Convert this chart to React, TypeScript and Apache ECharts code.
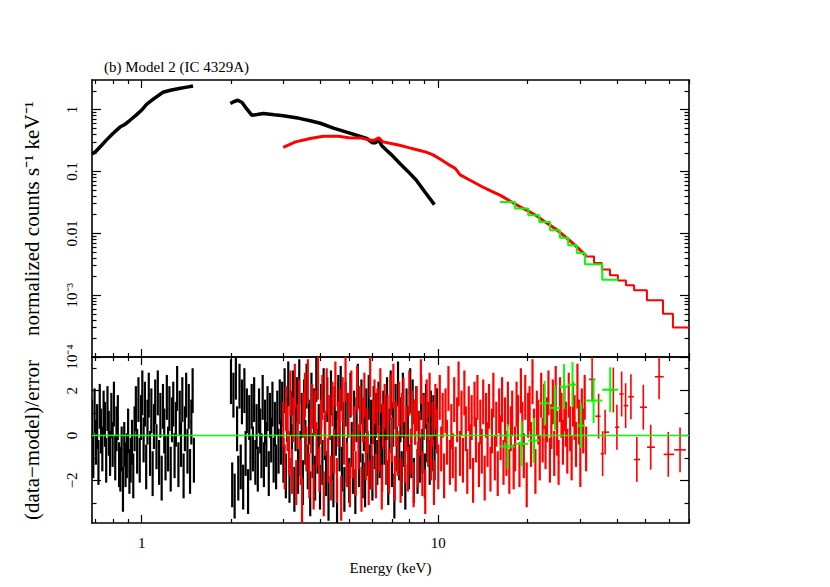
import React, { useEffect, useRef } from "react";
import * as echarts from "echarts";

// ---------- text ----------
const TITLE = "(b) Model 2 (IC 4329A)";
const X_NAME = "Energy (keV)";
const Y_TOP_NAME = "normalized counts s\u207B\u00B9 keV\u207B\u00B9";
const Y_BOT_NAME = "(data\u2212model)/error";

// ---------- axes ----------
const E_MIN = 0.68;
const E_MAX = 70;
const C_MIN = 1e-4;
const C_MAX = 3;
const R_MIN = -3.9;
const R_MAX = 3.5;

const X_MAJOR = [1, 10];
const X_TICK_LABELS = ["1", "10"];
const X_MINOR = [0.7, 0.8, 0.9, 2, 3, 4, 5, 6, 7, 8, 9, 20, 30, 40, 50, 60, 70];
const Y_TOP_MAJOR = [1e-4, 1e-3, 0.01, 0.1, 1];
const Y_TOP_LABELS = ["10\u207B\u2074", "10\u207B\u00B3", "0.01", "0.1", "1"];
const Y_TOP_MINOR_MULT = [2, 3, 4, 5, 6, 7, 8, 9];
const Y_BOT_MAJOR = [-2, 0, 2];
const Y_BOT_LABELS = ["\u22122", "0", "2"];
const Y_BOT_MINOR = [-3, -1, 1, 3];

// ---------- top panel: spectra ----------
const BLACK1_E = [0.68, 0.7, 0.73, 0.76, 0.8, 0.845, 0.88, 0.913, 0.96, 1.0, 1.04, 1.1, 1.18, 1.25, 1.35, 1.42, 1.49];
const BLACK1_C = [0.19, 0.21, 0.26, 0.32, 0.41, 0.52, 0.58, 0.67, 0.82, 0.98, 1.22, 1.5, 1.9, 2.05, 2.2, 2.3, 2.4];
const BLACK2_E = [1.99, 2.05, 2.11, 2.18, 2.25, 2.35, 2.45, 2.57, 2.8, 3.0, 3.4, 3.7, 4.0, 4.43, 5.0, 5.74, 6.0, 6.15, 6.27, 6.45, 6.69, 7.0, 7.42, 7.9, 8.43, 9.0, 9.7];
const BLACK2_C = [1.25, 1.35, 1.41, 1.3, 1.05, 0.81, 0.83, 0.86, 0.82, 0.79, 0.72, 0.66, 0.6, 0.5, 0.42, 0.34, 0.29, 0.29, 0.33, 0.26, 0.22, 0.18, 0.134, 0.1, 0.072, 0.047, 0.029];
const RED_E = [3.0, 3.3, 3.7, 4.1, 4.6, 5.0, 5.5, 5.9, 6.1, 6.3, 6.5, 7.0, 7.4, 8.0, 8.6, 9.1, 9.6, 10.1, 10.8, 11.4, 11.85, 12.8, 14.0, 15.2, 16.2, 17.5, 18.8, 19.9, 21.5, 23.0, 25.0, 27.0, 29.0, 31.5];
const RED_C = [0.245, 0.3, 0.34, 0.37, 0.37, 0.35, 0.345, 0.32, 0.32, 0.35, 0.3, 0.28, 0.265, 0.24, 0.22, 0.205, 0.185, 0.16, 0.13, 0.112, 0.088, 0.072, 0.057, 0.047, 0.041, 0.033, 0.027, 0.0235, 0.019, 0.015, 0.0115, 0.0085, 0.0063, 0.0043];
const RED_STEP_EDGES = [31.5, 33.5, 35.6, 37.9, 40.3, 42.9, 45.7, 50.5, 57.2, 61.8, 70];
const RED_STEP_C = [0.0042, 0.0033, 0.0026, 0.0021, 0.00173, 0.00145, 0.0012, 0.00083, 0.0005, 0.0003];
const GREEN_EDGES = [16.15, 18.14, 20.1, 21.9, 23.8, 25.7, 27.4, 29.3, 31.2, 35.7, 40.4];
const GREEN_C = [0.0321, 0.0251, 0.0195, 0.0152, 0.0112, 0.0085, 0.0064, 0.0048, 0.00315, 0.00178];

// ---------- bottom panel: residuals ----------
const BLACK1_RANGE = [0.68, 1.5];
const BLACK1_R = [
  0.6, -0.9, 1.1, -0.3, 0.4, -1.2, 1.3, 0.2, -0.6, 1.0, 0.5, -1.1, 1.2, 0.1, -0.8, 0.9, -0.4, 1.4, -1.0, 0.3, 0.8, -1.3,
  -1.5, -0.6, -2.4, -0.4, -1.3, -0.9, 0.2, -1.6, -1.1, -0.3, -1.8,
  0.3, 1.2, -0.7, 1.6, -1.1, 0.8, 1.9, -0.2, 1.4, -1.4, 0.6, 1.8, -0.8, 1.1, -1.7, 0.4, 1.5, -0.5, 1.9, -1.2, 0.9, -1.9,
  1.3, 0.2, -1.0, 1.7, -0.6, 1.2, -1.5, 0.7, 1.4, -0.9, 0.5, 2.1, -1.3, 1.0, -0.4, 1.6, -1.8, 0.3, 1.8, -0.7, 1.3, -1.6,
  0.6, 2.0, -1.1];
const BLACK2_RANGE = [2.0, 9.9];
const BLACK2_R = [
  2.4, -2.2, 1.8, -2.7, 2.6, 0.3, -1.9, 2.2, -1.4, 1.5, -2.3, 2.0, -0.8, 1.1, -2.5,
  0.8, -1.0, 1.3, -0.6, 1.6, -1.2, 0.4, -1.5, 1.1, 0.2, -0.9, 1.7, -1.3, 0.6, -0.4, 1.2, -1.7, 0.9, -0.2, 1.4, -1.1, 0.5,
  -1.4, 1.0, -0.7, 1.5, -0.3,
  1.4, -1.1, 2.0, -1.8, 0.7, 2.3, -2.0, 1.0, -0.5, 1.9, -2.4, 0.3, 1.6, -1.6, 2.4, -0.8, 0.9, -2.1, 1.5, -0.3,
  2.2, -1.4, 0.6, -2.6, 1.8, -0.9, 1.1, -1.9, 2.5, -0.7, 0.4, -2.3, 1.3, -1.2, 2.0, -0.1, -1.7, 1.6, -2.8, 0.8,
  1.9, -1.0, -2.2, 1.2, 0.1, -2.9, 1.7, -0.6, 2.1, -1.5, 0.5, -2.4, 1.4, -1.1, 0.9, -2.0, 1.8, -0.4, -1.6, 1.0,
  -2.5, 0.7, 2.2, -1.3, -0.2, 1.5, -1.8, 0.3, -2.2, 1.1, -0.8, 1.7, -1.4, 0.6, -1.9, 1.2, -0.5, 0.9, -1.2, 1.4,
  -0.9, 0.4, -1.5, 1.0, -0.3, 0.8, 1.6, -2.1, 0.2, 1.9, -1.3, 0.5, -2.7, 1.3, -0.6, 2.3, -1.0, 0.7, -1.7, 1.8,
  -0.4, -2.3, 1.1, 0.3, -1.4, 2.0, -0.9, 1.5, -2.0, 0.6, 1.2, -1.6, 0.1, -1.1, 1.7, -0.7, 0.9, -1.8, 1.3, -0.2,
  0.5, -1.2, 1.0, -0.6, 0.8, -1.0, 0.4, 1.1];
const RED_RANGE = [3.0, 31.5];
const RED_R = [
  0.5, -1.4, 1.2, 0.3, -0.8, 1.9, -1.6, 0.7, 2.2, -2.1, 0.4, 1.5, -1.2, -2.9, 0.9, 1.8, -0.6, 2.4, -1.8, 0.2,
  1.3, -2.3, 1.0, -0.4, 2.6, -1.5, 0.6, 1.7, -2.6, 0.1, 2.0, -1.1, 0.8, -1.9, 1.4, -0.7, 2.3, -2.0, 0.5, 1.1,
  -2.8, 1.6, -0.3, 2.5, -1.3, 0.9, -2.2, 1.9, -0.9, 0.3, -1.7, 2.1, -0.5, 1.2, -2.4, 0.7, 1.8, -1.0, 0.2, -2.1,
  2.7, -1.4, 0.6, 1.5, -1.8, 1.1, -0.6, 2.0, -2.3, 0.4, 1.3, -1.2, 0.8, -1.6, 1.7, -0.2, 2.2, -1.9, 0.5, -0.8,
  1.4, -2.0, 0.9, 1.6, -1.1, 0.3, -1.5, 1.9, -0.7, 1.0, -2.2, 0.6, 1.2, -1.3, 0.1, 2.4, -1.7, 0.8, -2.5, 1.5,
  -0.4, 1.8, -1.0, 0.5, -2.1, 1.3, 0.2, -1.4, 1.7, -0.6, 0.9, -1.8, 1.1, -0.3, 2.1, -1.2, 0.4, -0.9, 1.6, -1.5,
  0.7, 2.3, -0.8, 1.0, -1.1, 1.9, 0.3, -1.6, 1.2, -0.5, 0.8, -2.0, 1.4, -0.2, 1.7, -1.3, 0.6, -0.7, 1.5, -1.9,
  0.9, -0.4, 1.3, -1.5, 0.2, 1.8, -1.0, 0.5, -1.7, 1.1, -0.1, 1.6, -1.2, 0.7, -0.8, 1.4, -1.6, 0.3, 1.0, -1.4,
  -0.6, 1.4, 0.8, -1.3, 2.0, 0.5, -0.9, 1.7, -2.2, 0.9, 1.2, -0.4, 2.4, 0.2, -1.6, 1.0, 0.6, -1.0, 1.8, -0.2,
  1.3, -0.5, 0.7, 1.9, -1.1, 0.4, 1.5, -0.8, 2.1, 0.1, -1.2, 1.6, 0.9, -0.3, 1.2, 0.5, -0.7, 1.8, 0.3, -1.0,
  1.4, 0.8, -0.4, 2.2, 0.6, -1.3, 1.1, 0.2, 1.7, -0.6];
const RED_SPARSE_E = [33.0, 34.7, 35.8, 36.5, 38.9, 40.0, 41.5, 42.8, 44.6, 46.7, 49.1, 52.0, 55.5, 59.6, 65.3];
const RED_SPARSE_R = [2.5, 0.86, -0.81, 0.15, 2.03, 0.37, 1.85, 1.33, 1.73, -1.07, 1.26, -0.52, 2.62, -0.84, -0.64];
const GREEN_R = [-0.49, -0.37, -0.22, 1.44, 1.23, 2.18, 2.27, 0.44, 1.56, 2.04];

// ---------- helpers ----------
const L = Math.log10;
const FONT = "'Liberation Serif', 'Times New Roman', serif";
const BLACK = "#000000";
const RED = "#ff0000";
const GREEN = "#00ff00";

const pairs = (es: number[], cs: number[]) => es.map((e, i) => [L(e), L(cs[i])]);
const stepPairs = (edges: number[], cs: number[]) => {
  const out = edges.slice(0, -1).map((e, i) => [L(e), L(cs[i])]);
  out.push([L(edges[edges.length - 1]), L(cs[cs.length - 1])]);
  return out;
};
// residual crosses: [center, lo, hi, r, r-1, r+1] (residual error bars are +-1 by definition)
const denseBins = (range: number[], vals: number[]) => {
  const a = L(range[0]);
  const b = L(range[1]);
  const st = (b - a) / (vals.length - 1);
  return vals.map((v, i) => {
    const c = a + i * st;
    return [c, c - st / 2, c + st / 2, v, v - 1, v + 1];
  });
};
const sparseBins = (es: number[], vals: number[]) => {
  const lc = es.map(L);
  return vals.map((v, i) => {
    const lo = i > 0 ? (lc[i] + lc[i - 1]) / 2 : lc[i] - (lc[i + 1] - lc[i]) / 2;
    const hi = i < lc.length - 1 ? (lc[i] + lc[i + 1]) / 2 : lc[i] + (lc[i] - lc[i - 1]) / 2;
    return [lc[i], lo, hi, v, v - 1, v + 1];
  });
};
const edgeBins = (edges: number[], vals: number[]) =>
  vals.map((v, i) => {
    const lo = L(edges[i]);
    const hi = L(edges[i + 1]);
    return [(lo + hi) / 2, lo, hi, v, v - 1, v + 1];
  });

const crossRender = (color: string, lw: number) => (params: any, api: any) => {
  const y = api.value(3);
  const pl = api.coord([api.value(1), y]);
  const ph = api.coord([api.value(2), y]);
  const pLo = api.coord([api.value(0), api.value(4)]);
  const pHi = api.coord([api.value(0), api.value(5)]);
  return {
    type: "group",
    children: [
      { type: "line", shape: { x1: pl[0], y1: pl[1], x2: ph[0], y2: ph[1] }, style: { stroke: color, lineWidth: lw } },
      { type: "line", shape: { x1: pLo[0], y1: pLo[1], x2: pHi[0], y2: pHi[1] }, style: { stroke: color, lineWidth: lw } },
    ],
  };
};

const PLOT_LEFT = 92;
const PLOT_WIDTH = 597;
const TOP_Y = 80;
const TOP_H = 277;
const BOT_Y = 357;
const BOT_H = 166;

export default function App() {
  const ref = useRef<HTMLDivElement>(null);
  useEffect(() => {
    if (!ref.current) return;
    const chart = echarts.init(ref.current, null, { renderer: "svg" });

    const xMin = L(E_MIN);
    const xMax = L(E_MAX);
    const yTopMinor: number[] = [];
    for (let n = -4; n <= 0; n++) Y_TOP_MINOR_MULT.forEach((k) => {
      const v = L(k * Math.pow(10, n));
      if (v < L(C_MAX) - 1e-9) yTopMinor.push(v);
    });

    const line = { show: true, onZero: false, lineStyle: { color: BLACK, width: 1.6 } };
    const noLine = { show: false, onZero: false };
    const labelStyle = { fontFamily: FONT, fontSize: 15, color: BLACK };
    const nameStyle = { fontFamily: FONT, fontSize: 21, color: BLACK };

    const xAx = (grid: number, pos: string, ticks: number[], len: number, major: boolean, withLabels: boolean) => ({
      type: "value",
      gridIndex: grid,
      position: pos,
      min: xMin,
      max: xMax,
      axisLine: major ? line : noLine,
      axisTick: { show: true, inside: true, length: len, customValues: ticks, lineStyle: { color: BLACK, width: 1.2 } },
      axisLabel: withLabels
        ? {
            show: true,
            customValues: X_MAJOR.map(L),
            margin: 12,
            ...labelStyle,
            formatter: (v: number) => X_TICK_LABELS[X_MAJOR.findIndex((m) => Math.abs(L(m) - v) < 1e-6)] ?? "",
          }
        : { show: false },
      splitLine: { show: false },
      name: withLabels ? X_NAME : "",
      nameLocation: "middle",
      nameGap: 37,
      nameTextStyle: labelStyle,
    });

    const yAx = (grid: number, pos: string, min: number, max: number, ticks: number[], len: number, major: boolean,
      labelVals: number[] | null, labels: string[] | null, name: string) => ({
      type: "value",
      gridIndex: grid,
      position: pos,
      min,
      max,
      axisLine: major ? line : noLine,
      axisTick: { show: true, inside: true, length: len, customValues: ticks, lineStyle: { color: BLACK, width: 1.2 } },
      axisLabel: labelVals
        ? {
            show: true,
            customValues: labelVals,
            rotate: 90,
            margin: 13,
            ...labelStyle,
            formatter: (v: number) => (labels as string[])[labelVals.findIndex((m) => Math.abs(m - v) < 1e-6)] ?? "",
          }
        : { show: false },
      splitLine: { show: false },
      name,
      nameLocation: "middle",
      nameGap: 50,
      nameTextStyle: nameStyle,
    });

    const xMaj = X_MAJOR.map(L);
    const xMin_ = X_MINOR.map(L);
    const yTopMaj = Y_TOP_MAJOR.map(L);
    const yTopLo = L(C_MIN);
    const yTopHi = L(C_MAX);

    const grid = (top: number, h: number) => ({ left: PLOT_LEFT, top, width: PLOT_WIDTH, height: h, containLabel: false });
    const enc = { x: [0, 1, 2], y: [3, 4, 5] };

    const option: any = {
      animation: false,
      backgroundColor: "#ffffff",
      title: {
        text: TITLE,
        left: 104,
        top: 59,
        padding: 0,
        textStyle: { fontFamily: FONT, fontSize: 15, fontWeight: "normal", color: BLACK },
      },
      grid: [grid(TOP_Y, TOP_H), grid(TOP_Y, TOP_H), grid(BOT_Y, BOT_H), grid(BOT_Y, BOT_H)],
      xAxis: [
        xAx(0, "bottom", xMaj, 8, true, false),
        xAx(0, "top", xMaj, 8, true, false),
        xAx(1, "bottom", xMin_, 4, false, false),
        xAx(1, "top", xMin_, 4, false, false),
        xAx(2, "bottom", xMaj, 8, true, true),
        xAx(2, "top", xMaj, 8, true, false),
        xAx(3, "bottom", xMin_, 4, false, false),
        xAx(3, "top", xMin_, 4, false, false),
      ],
      yAxis: [
        yAx(0, "left", yTopLo, yTopHi, yTopMaj, 9, true, yTopMaj, Y_TOP_LABELS, Y_TOP_NAME),
        yAx(0, "right", yTopLo, yTopHi, yTopMaj, 9, true, null, null, ""),
        yAx(1, "left", yTopLo, yTopHi, yTopMinor, 4.5, false, null, null, ""),
        yAx(1, "right", yTopLo, yTopHi, yTopMinor, 4.5, false, null, null, ""),
        yAx(2, "left", R_MIN, R_MAX, Y_BOT_MAJOR, 9, true, Y_BOT_MAJOR, Y_BOT_LABELS, Y_BOT_NAME),
        yAx(2, "right", R_MIN, R_MAX, Y_BOT_MAJOR, 9, true, null, null, ""),
        yAx(3, "left", R_MIN, R_MAX, Y_BOT_MINOR, 4.5, false, null, null, ""),
        yAx(3, "right", R_MIN, R_MAX, Y_BOT_MINOR, 4.5, false, null, null, ""),
      ],
      series: [
        // top panel
        { type: "line", xAxisIndex: 0, yAxisIndex: 0, data: pairs(BLACK1_E, BLACK1_C), showSymbol: false, lineStyle: { color: BLACK, width: 3.5 }, silent: true },
        { type: "line", xAxisIndex: 0, yAxisIndex: 0, data: pairs(BLACK2_E, BLACK2_C), showSymbol: false, lineStyle: { color: BLACK, width: 3.5 }, silent: true },
        { type: "line", xAxisIndex: 0, yAxisIndex: 0, data: pairs(RED_E, RED_C), showSymbol: false, lineStyle: { color: RED, width: 3 }, silent: true },
        { type: "line", xAxisIndex: 0, yAxisIndex: 0, data: stepPairs(RED_STEP_EDGES, RED_STEP_C), step: "end", showSymbol: false, lineStyle: { color: RED, width: 2 }, silent: true },
        { type: "line", xAxisIndex: 0, yAxisIndex: 0, data: stepPairs(GREEN_EDGES, GREEN_C), step: "end", showSymbol: false, lineStyle: { color: GREEN, width: 2 }, silent: true },
        // bottom panel
        { type: "custom", xAxisIndex: 4, yAxisIndex: 4, data: denseBins(BLACK1_RANGE, BLACK1_R), renderItem: crossRender(BLACK, 2.2), clip: true, silent: true, encode: enc },
        { type: "custom", xAxisIndex: 4, yAxisIndex: 4, data: denseBins(BLACK2_RANGE, BLACK2_R), renderItem: crossRender(BLACK, 2.2), clip: true, silent: true, encode: enc },
        { type: "custom", xAxisIndex: 4, yAxisIndex: 4, data: denseBins(RED_RANGE, RED_R), renderItem: crossRender(RED, 2.2), clip: true, silent: true, encode: enc },
        { type: "custom", xAxisIndex: 4, yAxisIndex: 4, data: sparseBins(RED_SPARSE_E, RED_SPARSE_R), renderItem: crossRender(RED, 1.6), clip: true, silent: true, encode: enc },
        { type: "line", xAxisIndex: 4, yAxisIndex: 4, data: [[xMin, 0], [xMax, 0]], showSymbol: false, lineStyle: { color: GREEN, width: 1.5 }, silent: true },
        { type: "custom", xAxisIndex: 4, yAxisIndex: 4, data: edgeBins(GREEN_EDGES, GREEN_R), renderItem: crossRender(GREEN, 2), clip: true, silent: true, encode: enc },
      ],
    };
    chart.setOption(option);
    return () => chart.dispose();
  }, []);
  return <div ref={ref} style={{ position: "fixed", left: 0, top: 0, width: 830, height: 587, background: "#fff" }} />;
}
